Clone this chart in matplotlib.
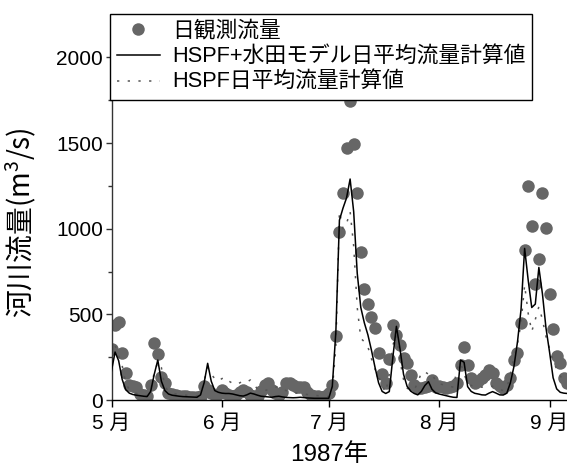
import numpy as np
import pandas as pd
import matplotlib
matplotlib.use("Agg")
import matplotlib.pyplot as plt
from matplotlib.ticker import MultipleLocator

# Daily discharge, 1987-05-01 .. 1987-09-06 (m3/s)
start_date = "1987-05-01"

observed = (
    # May
    [300, 440, 455, 276, 160, 88, 80, 76, 35, 30,
     25, 88, 331, 268, 136, 97, 40, 35, 30, 25,
     25, 22, 20, 20, 20, 22, 82, 60, 40, 30, 35]
    # June
    + [58, 40, 28, 25, 30, 45, 58, 45, 30, 25,
       22, 50, 90, 97, 60, 40, 30, 45, 97, 101,
       85, 74, 78, 74, 45, 30, 25, 22, 20, 22]
    # July
    + [40, 88, 374, 983, 1207, 1474, 1748, 1493, 1207, 866,
       646, 560, 483, 418, 276, 150, 97, 238, 438, 379,
       321, 243, 214, 146, 88, 68, 70, 75, 80, 117, 78]
    # August
    + [80, 75, 70, 75, 80, 97, 204, 311, 204, 127,
       100, 110, 130, 146, 175, 156, 97, 80, 68, 90,
       127, 233, 276, 447, 876, 1250, 1016, 677, 823, 1207, 1003]
    # September
    + [619, 412, 257, 214, 127, 100]
)

hspf_paddy = (
    [170, 280, 230, 120, 60, 40, 32, 28, 25, 22,
     20, 50, 150, 233, 110, 55, 35, 28, 25, 22,
     20, 19, 18, 17, 16, 30, 100, 214, 110, 55, 45]
    + [40, 38, 38, 35, 30, 25, 23, 30, 40, 35,
       28, 22, 20, 18, 16, 20, 22, 18, 15, 14,
       13, 14, 16, 14, 12, 11, 10, 10, 10, 10]
    + [10, 80, 400, 1050, 1120, 1180, 1290, 1100, 740, 540,
       450, 380, 290, 190, 100, 50, 38, 49, 250, 430,
       300, 150, 80, 52, 38, 30, 50, 85, 107, 62, 42]
    + [35, 30, 25, 20, 16, 15, 233, 220, 78, 50,
       39, 35, 30, 29, 40, 49, 40, 30, 29, 40,
       100, 195, 340, 530, 885, 700, 540, 560, 774, 620, 420]
    + [280, 130, 65, 45, 40, 38]
)

hspf_only = (
    [200, 320, 260, 200, 100, 60, 45, 38, 32, 28,
     25, 60, 160, 220, 190, 80, 50, 40, 35, 32,
     30, 28, 26, 25, 24, 35, 110, 190, 150, 125, 110]
    + [125, 132, 110, 97, 90, 100, 111, 105, 117, 90,
       64, 60, 55, 60, 70, 75, 78, 60, 55, 50,
       45, 40, 38, 35, 32, 30, 28, 25, 22, 20]
    + [20, 60, 311, 1100, 1000, 1030, 1100, 900, 540, 360,
       340, 310, 240, 180, 140, 80, 45, 150, 320, 380,
       230, 120, 70, 55, 60, 100, 160, 165, 150, 156, 110]
    + [95, 90, 85, 80, 75, 180, 220, 150, 100, 85,
       80, 75, 75, 80, 85, 80, 70, 60, 55, 70,
       150, 250, 330, 450, 671, 506, 400, 470, 545, 470, 370]
    + [300, 230, 180, 140, 115, 100]
)

month_starts = ["1987-05-01", "1987-06-01", "1987-07-01", "1987-08-01", "1987-09-01"]
month_labels = ["5 月", "6 月", "7 月", "8 月", "9 月"]

legend_labels = ["日観測流量", "HSPF+水田モデル日平均流量計算値", "HSPF日平均流量計算値"]

dates = pd.date_range(start_date, periods=len(observed), freq="D")

FONTS = ["Liberation Sans", "Noto Sans CJK JP"]
plt.rcParams["font.family"] = FONTS
# math text (for the m^3 superscript) uses a font that also covers kanji
plt.rcParams["mathtext.fontset"] = "custom"
plt.rcParams["mathtext.rm"] = "Noto Sans CJK JP"
plt.rcParams["mathtext.it"] = "Noto Sans CJK JP"
plt.rcParams["mathtext.default"] = "regular"

W, H = 567, 469
fig = plt.figure(figsize=(W / 100, H / 100), dpi=100)
left, right, bottom, top = 111.5, 567, 400, 30
ax = fig.add_axes([left / W, 1 - bottom / H, (right - left) / W, (bottom - top) / H])

obs_h, = ax.plot(dates, observed, linestyle="none", marker="o", markersize=9,
                 markerfacecolor="#666666", markeredgewidth=0, zorder=2)
hspf_h, = ax.plot(dates, hspf_only, color="#555555", linewidth=1.1,
                  linestyle=(0, (1.5, 5.5)), zorder=3)
paddy_h, = ax.plot(dates, hspf_paddy, color="black", linewidth=1.1, zorder=4)

ax.set_xlim(pd.Timestamp(start_date), pd.Timestamp(start_date) + pd.Timedelta(days=127.9))
ax.set_ylim(0, 2160)

ax.set_xticks(pd.to_datetime(month_starts))
ax.set_xticklabels(month_labels)
ax.yaxis.set_major_locator(MultipleLocator(500))
ax.yaxis.set_minor_locator(MultipleLocator(250))

for s in ("top", "right"):
    ax.spines[s].set_visible(False)
ax.spines["left"].set_color("#333333")
ax.spines["bottom"].set_color("black")
ax.spines["left"].set_linewidth(1.0)
ax.spines["bottom"].set_linewidth(1.0)

ax.tick_params(axis="y", which="major", direction="out", length=4, width=1,
               labelsize=15, pad=2, color="#333333")
ax.tick_params(axis="y", which="minor", direction="out", length=3, width=1, color="#333333")
ax.tick_params(axis="x", which="major", direction="out", length=5, width=1,
               labelsize=15, pad=5)

ax.set_ylabel("河川流量(m$^3$/s)", fontsize=20, family="Noto Sans CJK JP")
ax.yaxis.set_label_coords((39 - left) / (right - left), 0.48)
ax.set_xlabel("1987年", fontsize=17.5)
ax.xaxis.set_label_coords((329 - left) / (right - left), (bottom - 443) / (bottom - top))

leg = fig.legend([obs_h, paddy_h, hspf_h], legend_labels,
                 loc="upper left", bbox_to_anchor=(110 / W, 1 - 14 / H),
                 fontsize=15.7, frameon=True, fancybox=False, framealpha=1,
                 edgecolor="black", borderpad=0.3, labelspacing=0.22,
                 handlelength=2.0, handletextpad=0.55, borderaxespad=0,
                 numpoints=1)
leg.get_frame().set_linewidth(1.0)

fig.savefig("out.png", dpi=100)
